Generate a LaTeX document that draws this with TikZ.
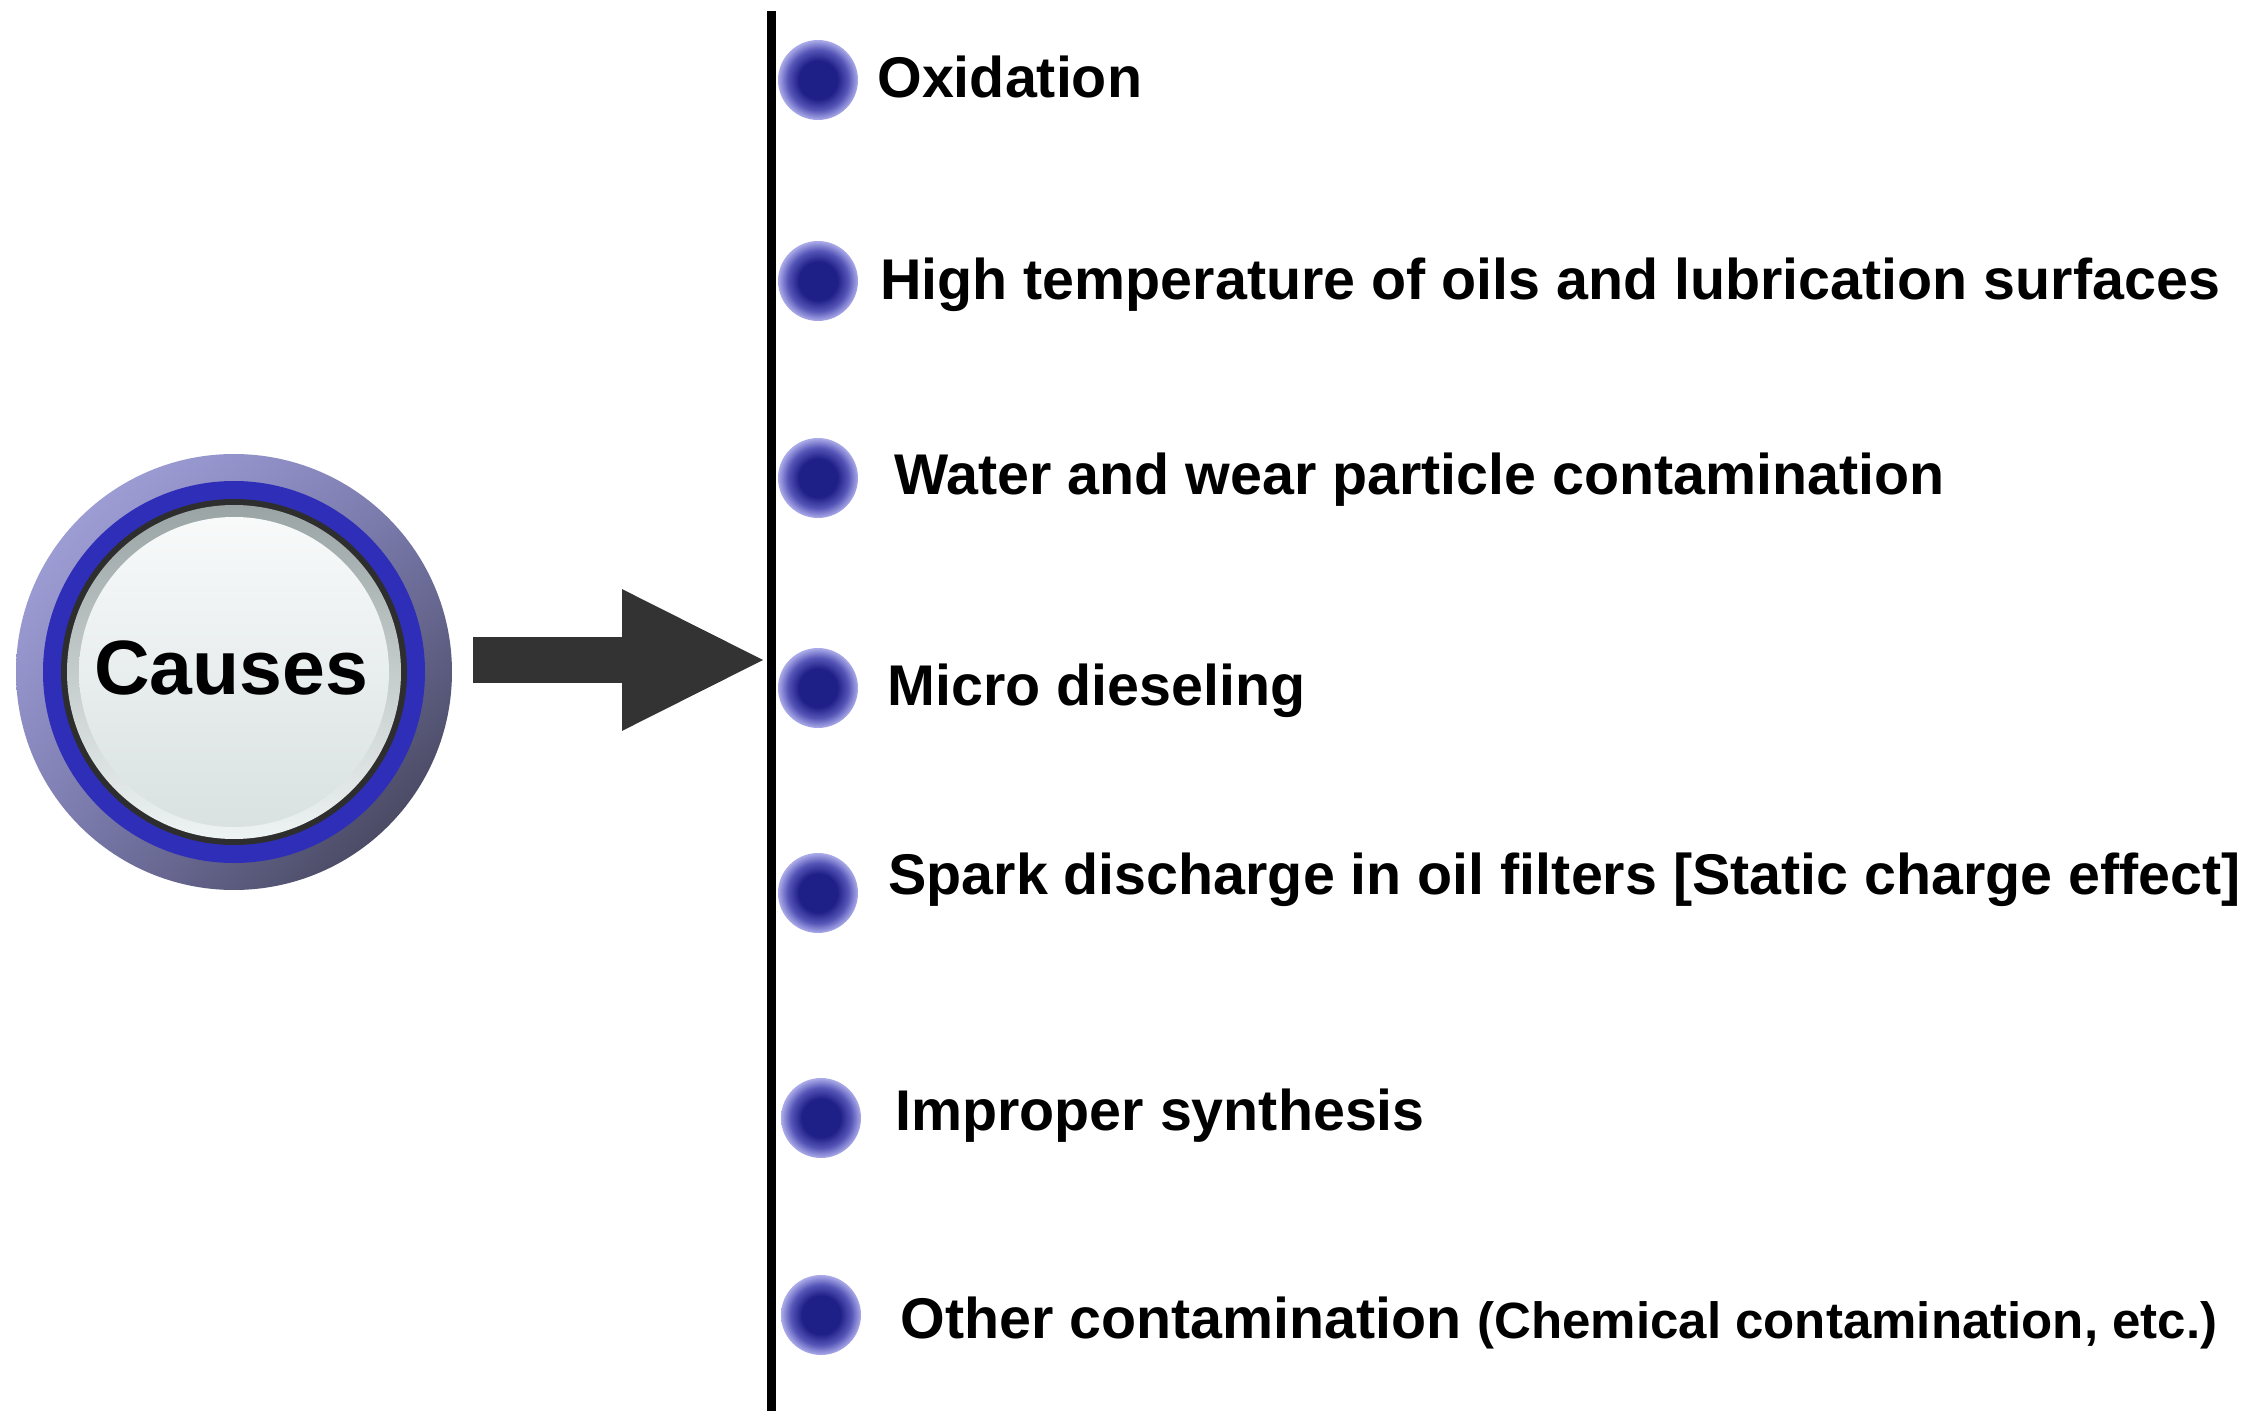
\documentclass[tikz,border=0pt]{standalone}
\usepackage{fontspec}
\setmainfont{Liberation Sans}
\usetikzlibrary{arrows.meta,shadings}

\definecolor{ringlight}{HTML}{ABABE4}
\definecolor{ringmid}{HTML}{7C7CB2}
\definecolor{ringdark}{HTML}{383848}
\definecolor{causeblue}{HTML}{2E2EB8}
\definecolor{rimgray}{HTML}{2E2E2E}
\definecolor{capsule}{HTML}{9AA4A4}
\definecolor{capsulelow}{HTML}{EEF3F3}
\definecolor{facetop}{HTML}{F8FAFA}
\definecolor{facemid}{HTML}{E2E9E9}
\definecolor{facelow}{HTML}{D9E1E1}
\definecolor{arrowgray}{HTML}{333333}
\definecolor{bulletcore}{HTML}{1F1F88}
\definecolor{bulletring}{HTML}{5656B8}
\definecolor{bulletedge}{HTML}{ACACEA}

\pgfdeclareradialshading{bulletshade}{\pgfpoint{0bp}{0bp}}{%
  color(0bp)=(bulletcore); color(12bp)=(bulletcore); color(19bp)=(bulletring);
  color(25bp)=(bulletedge); color(50bp)=(white)}

\tikzset{
  % round markers in front of each cause
  bullet/.style={circle, minimum size=40pt, inner sep=0pt, shading=bulletshade},
  % text of the causes
  itemtext/.style={anchor=base west, inner sep=0pt,
    font=\fontsize{28.7}{34}\selectfont\bfseries},
  % the block arrow
  causearrow/.style={draw=arrowgray, line width=23pt,
    -{Triangle[length=72.5pt, width=65pt, fill=arrowgray]}},
  spine/.style={line width=4.5pt},
}

\begin{document}
\begin{tikzpicture}[x=0.5pt,y=-0.5pt]
\useasboundingbox (0,0) rectangle (2251,1428);

% the button
\node[circle, minimum size=218pt, inner sep=0pt] (hub) at (234,672) {};
\shade[upper left=ringlight, upper right=ringmid, lower left=ringmid, lower right=ringdark] (hub.center) circle (218);
\fill[causeblue] (hub.center) circle (191);
\fill[rimgray] (hub.center) circle (173);
\shade[top color=capsule, bottom color=capsulelow] (hub.center) circle (167);
\shade[top color=facetop, middle color=facemid, bottom color=facelow] (hub.center) circle (155);
\node[font=\fontsize{38.5}{46}\selectfont\bfseries, inner sep=0pt] (causes) at (231,668) {Causes};

% spine and arrow
\coordinate (spinetop) at (771,11);
\coordinate (spinebot) at (771,1411);
\draw[spine] (spinetop) -- (spinebot);
\coordinate (arrowtip) at (767,660);
\draw[causearrow] ([xshift=10.5pt,yshift=6pt]hub.east) -- (arrowtip);

% causes
\node[bullet] (b1) at (818,80) {};
\node[itemtext] (oxid) at (877,98) {Oxidation};

\node[bullet] (b2) at (818,281) {};
\node[itemtext] (hightemp) at (880,300) {High temperature of oils and lubrication surfaces};

\node[bullet] (b3) at (818,478) {};
\node[itemtext] (water) at (894,495) {Water and wear particle contamination};

\node[bullet] (b4) at (818,688) {};
\node[itemtext] (micro) at (887,705) {Micro dieseling};

\node[bullet] (b5) at (818,893) {};
\node[itemtext] (spark) at (888,894) {Spark discharge in oil filters [Static charge effect]};

\node[bullet] (b6) at (821,1118) {};
\node[itemtext] (improper) at (895,1130) {Improper synthesis};

\node[bullet] (b7) at (821,1315) {};
\node[itemtext] (other) at (900,1338) {Other contamination {\fontsize{25.5}{30}\selectfont(Chemical contamination, etc.)}};

\end{tikzpicture}
\end{document}
